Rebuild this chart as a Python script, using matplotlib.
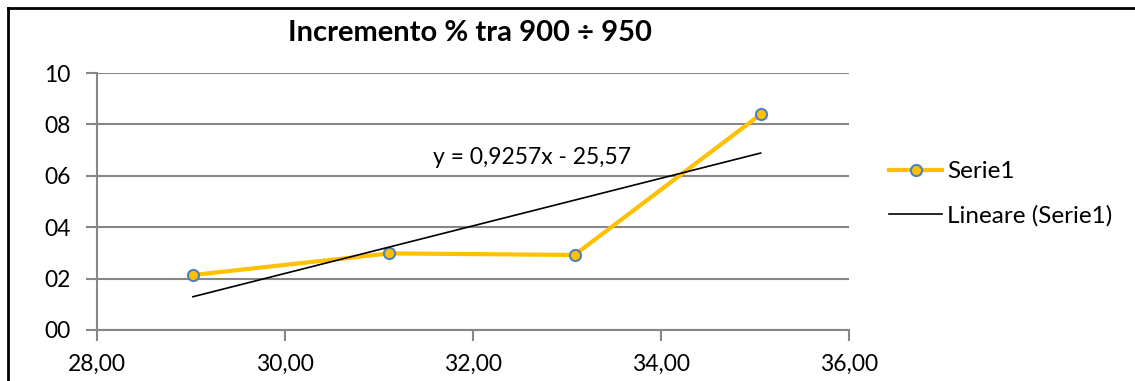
import matplotlib
matplotlib.use("Agg")
import matplotlib.pyplot as plt
from matplotlib.lines import Line2D
import numpy as np

plt.rcParams['font.family'] = ['Lato', 'DejaVu Sans']

# Data
x_vals = [29.02, 31.11, 33.08, 35.06]
y_vals = [2.14, 2.98, 2.92, 8.39]
slope = 0.9257
intercept = -25.57
title = "Incremento % tra 900 ÷ 950"
series_label = "Serie1"
trend_label = "Lineare (Serie1)"
eq_label = "y = 0,9257x - 25,57"
x_ticks = [28, 30, 32, 34, 36]
y_ticks = [0, 2, 4, 6, 8, 10]

fig = plt.figure(figsize=(11.35, 3.81), dpi=100)
ax = fig.add_axes([97/1135, 51/381, (849-97)/1135, (330-73)/381])

grid_c = '#868686'
for yt in y_ticks:
    ax.axhline(yt, color=grid_c, lw=1.5, zorder=1)

ax.plot(x_vals, y_vals, color='#FFC000', lw=3, marker='o', markersize=8,
        markerfacecolor='#FFC000', markeredgecolor='#4F81BD', markeredgewidth=1.5,
        zorder=3, label=series_label)
tx = np.array([x_vals[0], x_vals[-1]])
ax.plot(tx, slope * tx + intercept, color='black', lw=1.2, zorder=4, label=trend_label)

ax.text(31.57, 6.3, eq_label, fontsize=16.5, color='black', va='bottom', ha='left')

ax.set_xlim(28, 36)
ax.set_ylim(0, 10)
ax.set_xticks(x_ticks)
ax.set_xticklabels([f"{v:.2f}".replace('.', ',') for v in x_ticks])
ax.set_yticks(y_ticks)
ax.set_yticklabels([f"{v:02d}" for v in y_ticks])
ax.tick_params(axis='both', labelsize=16.5, colors='black', length=8, width=1.5, color=grid_c)
ax.tick_params(axis='x', pad=9)
ax.tick_params(axis='y', pad=11)
for s in ['top', 'right']:
    ax.spines[s].set_visible(False)
for s in ['left', 'bottom']:
    ax.spines[s].set_color(grid_c)
    ax.spines[s].set_linewidth(1.5)

fig.text(470/1135, 1 - 33/381, title, fontsize=21, fontweight='bold', ha='center', va='center')

leg = fig.legend(loc='center left', bbox_to_anchor=(872/1135, 1 - 194/381), frameon=False,
                 fontsize=17.5, handlelength=2.2, handletextpad=0.2, labelspacing=0.95,
                 borderpad=0.2)

fig.add_artist(Line2D([7.5/1135, 7.5/1135], [0, 1 - 7.5/381], color='black', lw=2, transform=fig.transFigure))
fig.add_artist(Line2D([7.5/1135, 1], [1 - 7.5/381, 1 - 7.5/381], color='black', lw=2, transform=fig.transFigure))

fig.savefig('out.png', dpi=100)
